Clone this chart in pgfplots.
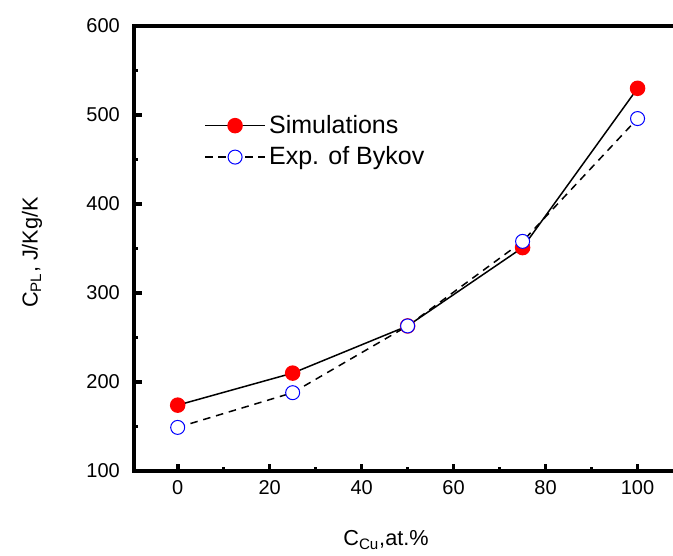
\documentclass[border=0pt]{standalone}
\usepackage{fontspec}
\setmainfont{Liberation Sans}
\usepackage{pgfplots}
\pgfplotsset{compat=1.18}

\begin{document}
\begin{tikzpicture}
\useasboundingbox (-80.4pt,-50.4pt) rectangle (323.4pt,282.6pt);
\begin{axis}[
  at={(0pt,0pt)}, anchor=south west,
  scale only axis,
  width=330pt, height=267pt,
  xmin=-9.5, xmax=110.1,
  ymin=100, ymax=600,
  axis line style={line width=2.4pt, -},
  xtick pos=bottom, ytick pos=left,
  xtick={0,20,...,100}, ytick={100,200,...,600},
  minor x tick num=1, minor y tick num=1,
  tick align=inside,
  major tick length=4.5pt, minor tick length=2.5pt,
  major tick style={line width=2.2pt, black},
  minor tick style={line width=1.6pt, black},
  /pgf/number format/assume math mode=true,
  /pgf/number format/1000 sep={},
  tick label style={font=\fontsize{12}{14}\selectfont},
  xticklabel style={yshift=-2pt},
  yticklabel style={xshift=-5pt},
  xlabel={C\textsubscript{Cu},at.\%},
  ylabel={C\textsubscript{PL}, J/Kg/K},
  label style={font=\fontsize{13}{15}\selectfont},
  xlabel style={at={(axis description cs:0,0)}, anchor=center, xshift=151.2pt, yshift=-41.4pt},
  ylabel style={at={(axis description cs:0,0.491)}, anchor=center, yshift=61.2pt},
  legend style={draw=none, fill=none, at={(42pt,215.6pt)}, anchor=north west,
    font=\fontsize{15}{17}\selectfont, row sep=2.5pt, inner sep=0pt},
  legend cell align=left,
  legend image code/.code={
    \draw[#1, mark repeat=2, mark phase=2] plot coordinates {(0pt,0pt) (18pt,0pt) (36pt,0pt)};
  },
  clip=false,
]
\addplot[black, line width=0.9pt, mark=*, mark size=4.2pt,
  mark options={solid, fill=red, draw=red}]
  coordinates {(0,174) (25,210) (50,263) (75,351) (100,530)};
\addlegendentry{Simulations}
\addplot[black, line width=0.9pt, dash pattern=on 4.5pt off 3.5pt, mark=*, mark size=4.2pt,
  mark options={solid, draw=blue, fill=white, line width=0.6pt}]
  coordinates {(0,149) (25,188) (50,263) (75,358) (100,496)};
\addlegendentry{Exp. of Bykov}
\end{axis}
\end{tikzpicture}
\end{document}
